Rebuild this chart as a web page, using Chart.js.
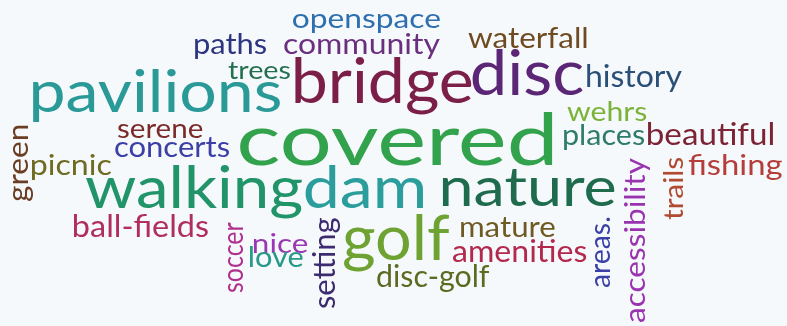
<!DOCTYPE html>
<html lang="en">
<head>
<meta charset="utf-8">
<script src="https://cdn.jsdelivr.net/npm/chart.js@4"></script>
<style>
  html, body { margin: 0; padding: 0; background: #f6f9fb; }
  #wrap { width: 787px; height: 326px; position: relative; }
</style>
</head>
<body>
<div id="wrap"><canvas id="cloud"></canvas></div>
<script>
  // words of the cloud, with their place in a 787 x 326 layout space
  const words = [
    "openspace", "paths", "community", "waterfall", "trees", "bridge", "disc",
    "history", "pavilions", "wehrs", "places", "beautiful", "covered", "serene",
    "concerts", "picnic", "fishing", "walking", "dam", "nature", "ball-fields",
    "nice", "love", "golf", "mature", "amenities", "disc-golf",
    "green", "trails", "accessibility", "areas.", "soccer", "setting"
  ];
  // start of each word on its baseline
  const posX = [293, 194, 284, 468, 228, 295, 472, 587, 33, 567, 563, 648, 240, 117,
                115, 32, 688, 85, 305, 442, 74, 253, 250, 343, 460, 453, 377,
                28, 683, 645, 610, 243, 335];
  const posY = [28, 54, 54, 48, 79, 103, 95, 87, 112, 121, 145, 145, 165, 138,
                157, 175, 175, 208, 208, 206, 237, 253, 267, 260, 237, 262, 287,
                202, 220, 323, 288, 293, 308];
  // length of each word along its reading direction
  const spans = [147, 73, 156, 119, 62, 177, 111, 95, 247, 80, 82, 125, 313, 86,
                 115, 80, 94, 217, 118, 173, 134, 55, 53, 107, 95, 134, 113,
                 77, 63, 165, 71, 71, 90];
  // word weight (font size)
  const weights = [26, 28, 29, 28, 25, 62, 61, 31, 58, 26, 28, 30, 72, 27,
                   28, 29, 28, 58, 58, 54, 30, 27, 28, 62, 28, 31, 30,
                   29, 26, 29, 29, 29, 30];
  const angles = [0, 0, 0, 0, 0, 0, 0, 0, 0, 0, 0, 0, 0, 0,
                  0, 0, 0, 0, 0, 0, 0, 0, 0, 0, 0, 0, 0,
                  -90, -90, -90, -90, -90, -90];
  const colors = [
    "#2e6fb0", "#2d3580", "#6b2f7f", "#6e4b20", "#237050", "#7b1f48", "#5b2676",
    "#2a5078", "#2a9a98", "#7bb33a", "#2f7c68", "#7c2335", "#32a24c", "#7b2a2a",
    "#3b3fa6", "#6e6b22", "#b53d3a", "#22946a", "#2a9d9c", "#1e6b4d", "#b02e5c",
    "#9a38b3", "#2a9a88", "#6ea333", "#6e5a22", "#b3294d", "#5d6a20",
    "#6b3d22", "#b04a30", "#9a33b0", "#3b3fa8", "#b0308f", "#3c2b6e"
  ];

  // draws each word at its point, fitted to its span
  const wordPlugin = {
    id: "words",
    afterDatasetsDraw(chart) {
      const ctx = chart.ctx;
      const xs = chart.scales.x;
      const ys = chart.scales.y;
      const k = (ys.bottom - ys.top) / 326;
      chart.getDatasetMeta(0).data.forEach((pt, i) => {
        const vertical = angles[i] !== 0;
        const spanPx = vertical
          ? ys.getPixelForValue(posY[i]) - ys.getPixelForValue(posY[i] - spans[i])
          : xs.getPixelForValue(posX[i] + spans[i]) - xs.getPixelForValue(posX[i]);
        ctx.save();
        ctx.font = (weights[i] * k) + "px Lato, 'Open Sans', sans-serif";
        ctx.textAlign = "left";
        ctx.textBaseline = "alphabetic";
        const m = ctx.measureText(words[i]);
        const ink = m.actualBoundingBoxLeft + m.actualBoundingBoxRight;
        ctx.translate(pt.x, pt.y);
        ctx.rotate(angles[i] * Math.PI / 180);
        ctx.scale(spanPx / ink, 1);
        ctx.fillStyle = colors[i];
        ctx.fillText(words[i], m.actualBoundingBoxLeft, 0);
        ctx.restore();
      });
    }
  };

  const ctx = document.getElementById("cloud").getContext("2d");
  new Chart(ctx, {
    type: "scatter",
    data: {
      datasets: [{
        data: words.map((w, i) => ({ x: posX[i], y: posY[i] })),
        pointRadius: 0,
        pointHoverRadius: 0
      }]
    },
    options: {
      responsive: true,
      maintainAspectRatio: false,
      animation: false,
      layout: { padding: 0 },
      plugins: { legend: { display: false }, tooltip: { enabled: false } },
      scales: {
        x: { type: "linear", min: 0, max: 787, display: false },
        y: { type: "linear", min: 0, max: 326, reverse: true, display: false }
      }
    },
    plugins: [wordPlugin]
  });
</script>
</body>
</html>
